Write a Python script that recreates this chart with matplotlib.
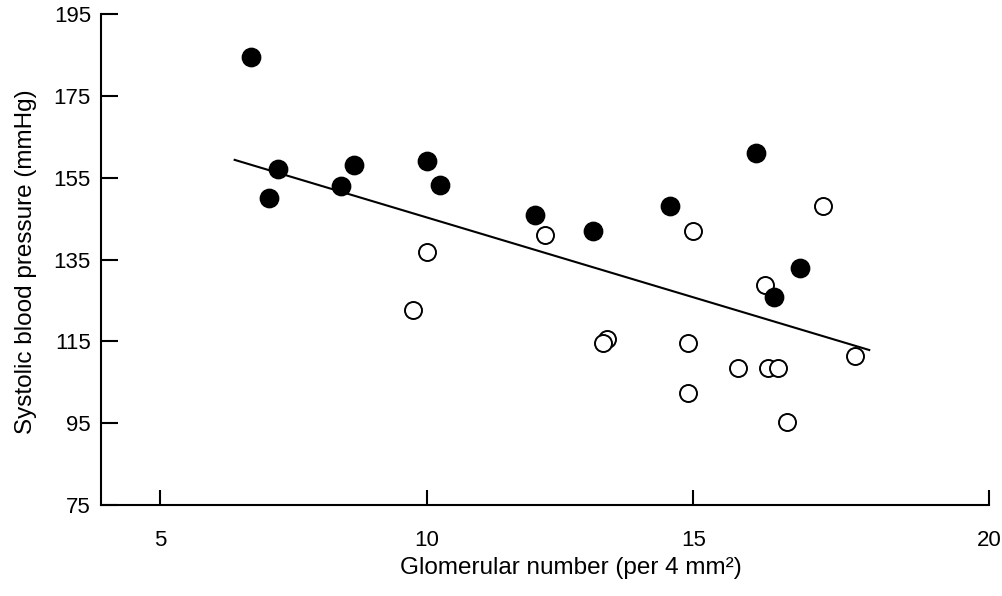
import matplotlib
matplotlib.use('Agg')
import matplotlib.pyplot as plt

plt.rcParams['font.family'] = ['Liberation Sans', 'DejaVu Sans']

# punti pieni
pieni_x = [6.71, 7.21, 7.04, 8.39, 8.64, 10.0, 10.25, 12.03, 13.12, 14.56, 16.18, 17.01, 16.51]
pieni_y = [184.6, 157.2, 150.0, 153.1, 158.1, 159.2, 153.2, 145.9, 142.0, 148.1, 161.1, 132.9, 125.8]

# punti vuoti
vuoti_x = [9.75, 10.0, 12.22, 13.38, 13.30, 14.99, 14.90, 14.90, 15.83, 16.41, 16.59, 16.76, 16.34, 17.44, 18.03]
vuoti_y = [122.7, 136.9, 141.0, 115.5, 114.5, 142.0, 114.7, 102.3, 108.5, 108.5, 108.5, 95.3, 128.8, 148.1, 111.4]

# retta di regressione (estremi)
retta_x = [6.40, 18.30]
retta_y = [159.4, 112.9]

y_ticks = [75, 95, 115, 135, 155, 175, 195]
x_tick_labels = ['5', '10', '15', '20']

fig = plt.figure(figsize=(10.02, 5.96), dpi=100)
ax = fig.add_axes([0.1005, 0.1527, 0.8865, 0.8233])

ax.plot(retta_x, retta_y, color='black', lw=1.5, zorder=2)
ax.scatter(vuoti_x, vuoti_y, s=150, facecolors='white', edgecolors='black', linewidths=1.4, zorder=3)
ax.scatter(pieni_x, pieni_y, s=175, color='black', zorder=4)

xmin, xmax = 3.888, 20.545
ax.set_xlim(xmin, xmax)
ax.set_ylim(75, 195)
ax.set_yticks(y_ticks)
# nell'originale il 20 sta in fondo all'asse
ax.set_xticks([5, 10, 15, xmax])
ax.set_xticklabels(x_tick_labels)

for s in ['top', 'right']:
    ax.spines[s].set_visible(False)
for s in ['left', 'bottom']:
    ax.spines[s].set_linewidth(1.5)

ax.tick_params(axis='y', direction='in', length=12, width=1.5, labelsize=16, pad=7)
ax.tick_params(axis='x', direction='in', length=11, width=1.5, labelsize=16, pad=18)

ax.set_ylabel('Systolic blood pressure (mmHg)', fontsize=17.5)
ax.yaxis.set_label_coords(-0.072, 0.495)
ax.set_xlabel('Glomerular number (per 4 mm²)', fontsize=17.5)
ax.xaxis.set_label_coords(0.529, -0.106)

plt.savefig('out.png', dpi=100)
